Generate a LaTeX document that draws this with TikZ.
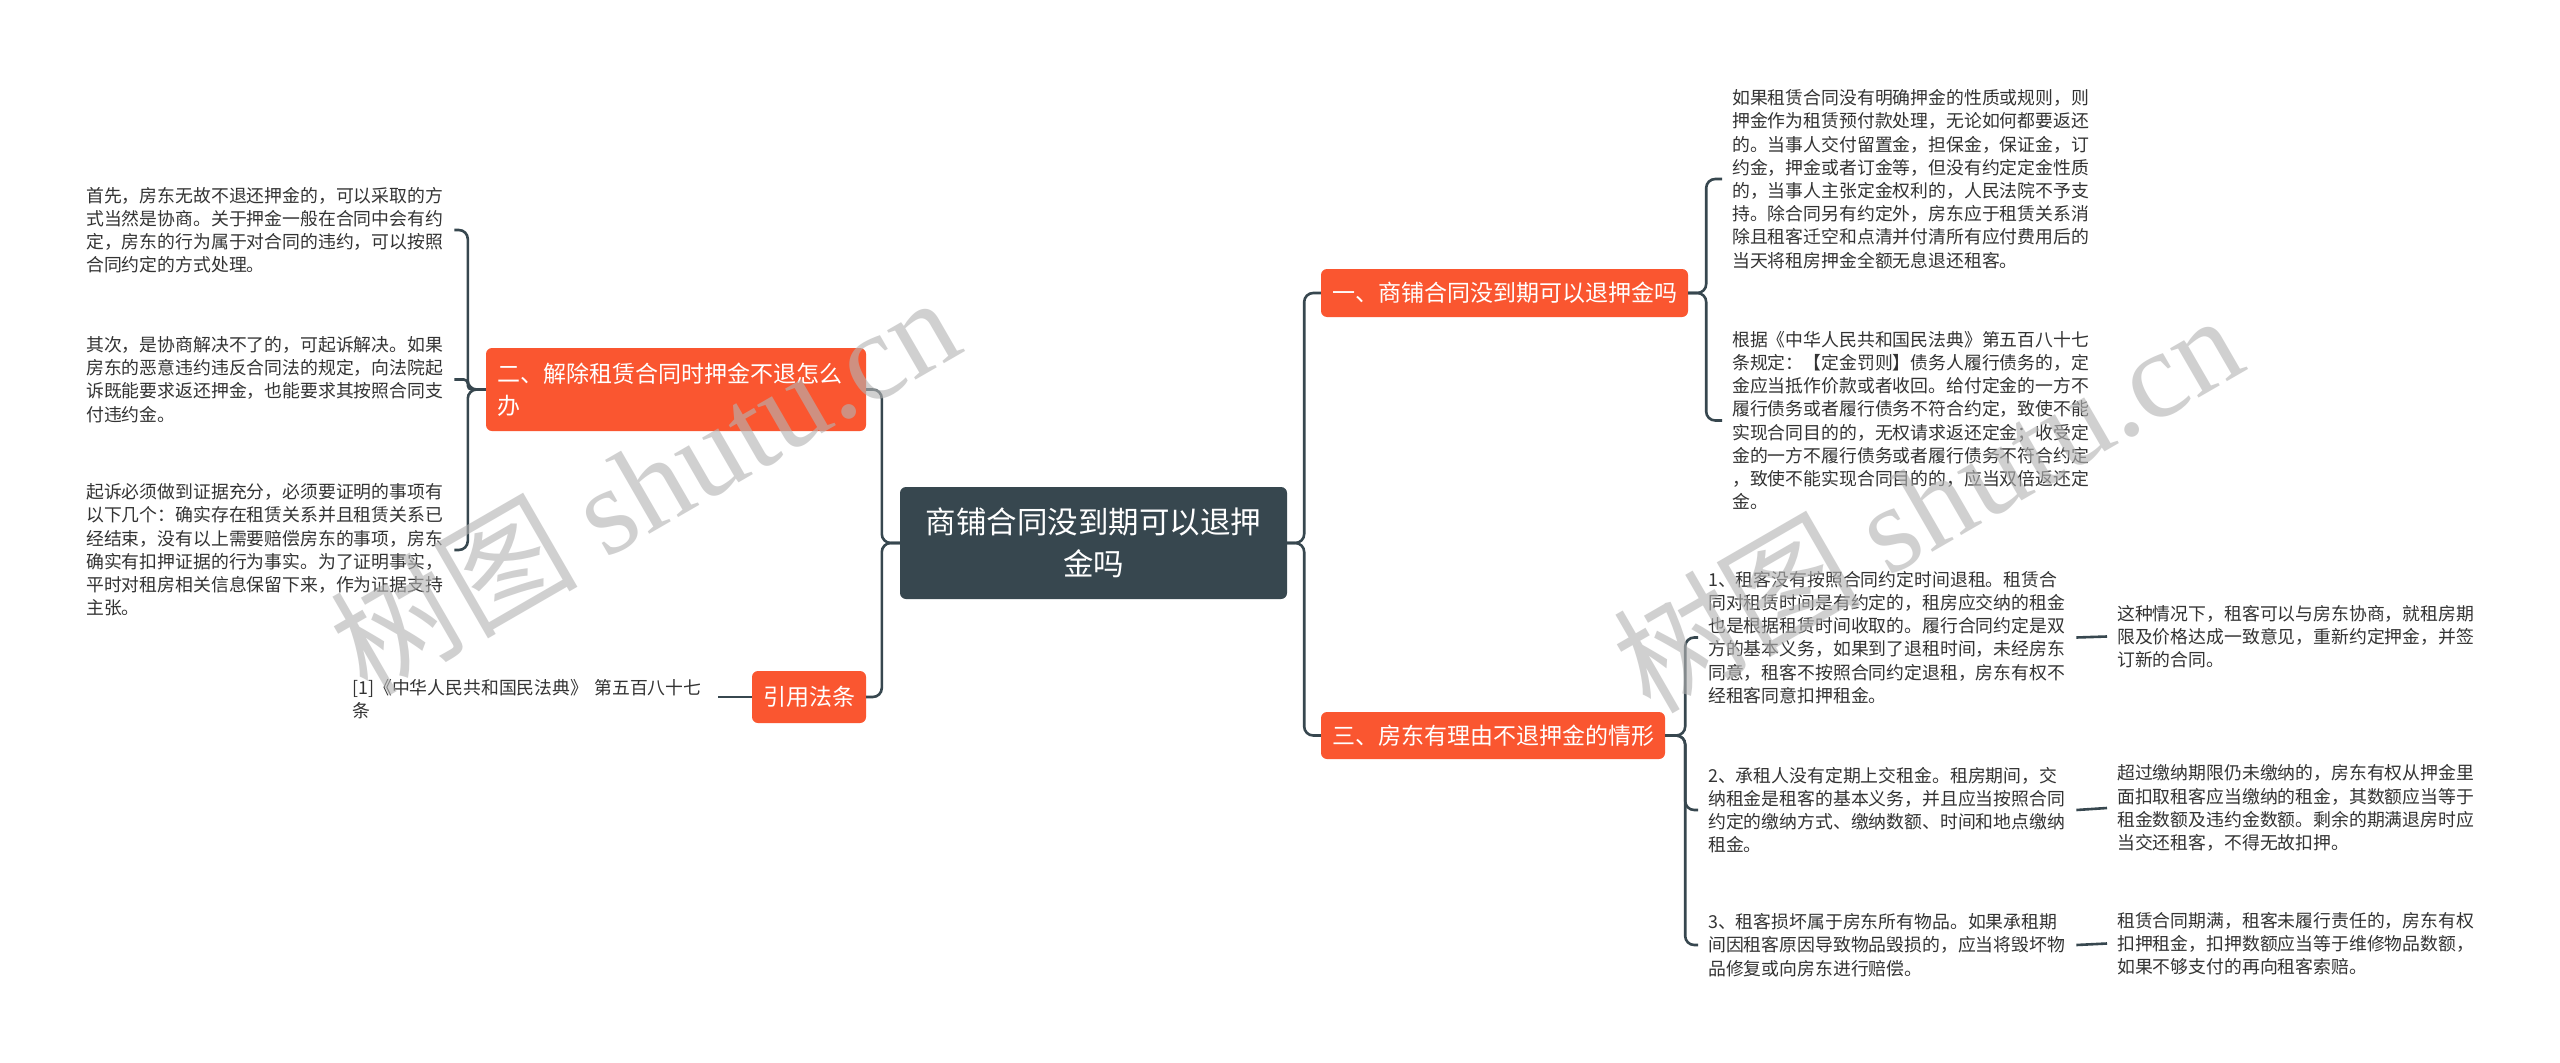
\documentclass[tikz,border=0pt]{standalone}
\usepackage{fontspec}
\setmainfont{Noto Sans CJK SC}
\newfontfamily\wmserif{Liberation Serif}
\usetikzlibrary{calc}
\definecolor{slate}{HTML}{37474F}
\definecolor{orng}{HTML}{FA5630}
\definecolor{leaftext}{HTML}{333333}
\definecolor{wmgray}{HTML}{B4B4B4}
\begin{document}
\begin{tikzpicture}[x=1pt,y=-1pt,
  conn/.style={draw=slate, line width=2.6pt, rounded corners=9pt},
  rootbox/.style={fill=slate, rounded corners=6pt, text=white, align=center,
    font=\fontsize{30.5}{42}\selectfont, minimum width=387pt, minimum height=112pt, inner sep=0pt},
  branchbox/.style={fill=orng, rounded corners=6pt, text=white,
    font=\fontsize{23}{32}\selectfont, inner xsep=11pt, inner ysep=0pt},
  leaftxt/.style={text=leaftext, font=\fontsize{17.85}{23.2}\selectfont, align=left,
    text width=358pt, inner xsep=10pt, inner ysep=2pt, anchor=west},
  wmtext/.style={text=wmgray, text opacity=0.62, font=\fontsize{124}{130}\selectfont, inner sep=0pt, anchor=south west},
]
\fill[white] (0,0) rectangle (2560,1063);
\useasboundingbox (0,0) rectangle (2560,1063);

% root
\node[rootbox] (c) at (1093.5,543) {商铺合同没到期可以退押\\金吗};

% branches
\node[branchbox, minimum width=367pt, minimum height=48pt] (b1) at (1504.5,293) {一、商铺合同没到期可以退押金吗};
\node[branchbox, text width=358pt, align=left, minimum height=83pt] (b2) at (676,389.5) {二、解除租赁合同时押金不退怎么\\办};
\node[branchbox, minimum width=344pt, minimum height=47pt] (b3) at (1493,735.5) {三、房东有理由不退押金的情形};
\node[branchbox, minimum width=114pt, minimum height=52pt, inner xsep=0pt] (cite) at (809,697) {引用法条};

% left leaves
\node[leaftxt] (l1) at (76,230) {首先，房东无故不退还押金的，可以采取的方\\式当然是协商。关于押金一般在合同中会有约\\定，房东的行为属于对合同的违约，可以按照\\合同约定的方式处理。};
\node[leaftxt] (l2) at (76,379.5) {其次，是协商解决不了的，可起诉解决。如果\\房东的恶意违约违反合同法的规定，向法院起\\诉既能要求返还押金，也能要求其按照合同支\\付违约金。};
\node[leaftxt] (l3) at (76,550) {起诉必须做到证据充分，必须要证明的事项有\\以下几个：确实存在租赁关系并且租赁关系已\\经结束，没有以上需要赔偿房东的事项，房东\\确实有扣押证据的行为事实。为了证明事实，\\平时对租房相关信息保留下来，作为证据支持\\主张。};
\node[leaftxt, text width=356pt] (cl) at (342,699.5) {[1]《中华人民共和国民法典》 第五百八十七\\条};

% right leaves of branch 1
\node[leaftxt] (r1) at (1722,179) {如果租赁合同没有明确押金的性质或规则，则\\押金作为租赁预付款处理，无论如何都要返还\\的。当事人交付留置金，担保金，保证金，订\\约金，押金或者订金等，但没有约定定金性质\\的，当事人主张定金权利的，人民法院不予支\\持。除合同另有约定外，房东应于租赁关系消\\除且租客迁空和点清并付清所有应付费用后的\\当天将租房押金全额无息退还租客。};
\node[leaftxt] (r2) at (1722,420.5) {根据《中华人民共和国民法典》第五百八十七\\条规定：【定金罚则】债务人履行债务的，定\\金应当抵作价款或者收回。给付定金的一方不\\履行债务或者履行债务不符合约定，致使不能\\实现合同目的的，无权请求返还定金；收受定\\金的一方不履行债务或者履行债务不符合约定\\，致使不能实现合同目的的，应当双倍返还定\\金。};

% items of branch 3
\node[leaftxt] (i1) at (1698,637.5) {1、租客没有按照合同约定时间退租。租赁合\\同对租赁时间是有约定的，租房应交纳的租金\\也是根据租赁时间收取的。履行合同约定是双\\方的基本义务，如果到了退租时间，未经房东\\同意，租客不按照合同约定退租，房东有权不\\经租客同意扣押租金。};
\node[leaftxt] (i2) at (1698,810) {2、承租人没有定期上交租金。租房期间，交\\纳租金是租客的基本义务，并且应当按照合同\\约定的缴纳方式、缴纳数额、时间和地点缴纳\\租金。};
\node[leaftxt] (i3) at (1698,945) {3、租客损坏属于房东所有物品。如果承租期\\间因租客原因导致物品毁损的，应当将毁坏物\\品修复或向房东进行赔偿。};

% leaves of items
\node[leaftxt] (la) at (2107,636.5) {这种情况下，租客可以与房东协商，就租房期\\限及价格达成一致意见，重新约定押金，并签\\订新的合同。};
\node[leaftxt] (lb) at (2107,808) {超过缴纳期限仍未缴纳的，房东有权从押金里\\面扣取租客应当缴纳的租金，其数额应当等于\\租金数额及违约金数额。剩余的期满退房时应\\当交还租客，不得无故扣押。};
\node[leaftxt] (lc) at (2107,943.5) {租赁合同期满，租客未履行责任的，房东有权\\扣押租金，扣押数额应当等于维修物品数额，\\如果不够支付的再向租客索赔。};

% connectors
\draw[conn] (c.west) -- ++(-18,0) |- (b2.east);
\draw[conn] (c.west) -- ++(-18,0) |- (cite.east);
\draw[conn] (c.east) -- ++(17,0) |- (b1.west);
\draw[conn] (c.east) -- ++(17,0) |- (b3.west);
\draw[conn] (b2.west) -- ++(-18,0) |- (l1.east);
\draw[conn, rounded corners=4pt] (b2.west) -- ++(-18,0) |- (l2.east);
\draw[conn] (b2.west) -- ++(-18,0) |- (l3.east);
\draw[conn] (cite.west) -- (cl.east |- cite.west);
\draw[conn] (b1.east) -- ++(18,0) |- (r1.west);
\draw[conn] (b1.east) -- ++(18,0) |- (r2.west);
\draw[conn] (b3.east) -- ++(20,0) |- (i1.west);
\draw[conn] (b3.east) -- ++(20,0) |- (i2.west);
\draw[conn] (b3.east) -- ++(20,0) |- (i3.west);
\draw[conn] (i1.east) -- (la.west);
\draw[conn] (i2.east) -- (lb.west);
\draw[conn] (i3.east) -- (lc.west);

% watermarks (on top, translucent)
\node[wmtext, rotate=30] (wm1) at (372,706) {树图 {\wmserif shutu.cn}};
\node[wmtext, rotate=30] (wm2) at (1655,724) {树图 {\wmserif shutu.cn}};
\end{tikzpicture}
\end{document}
